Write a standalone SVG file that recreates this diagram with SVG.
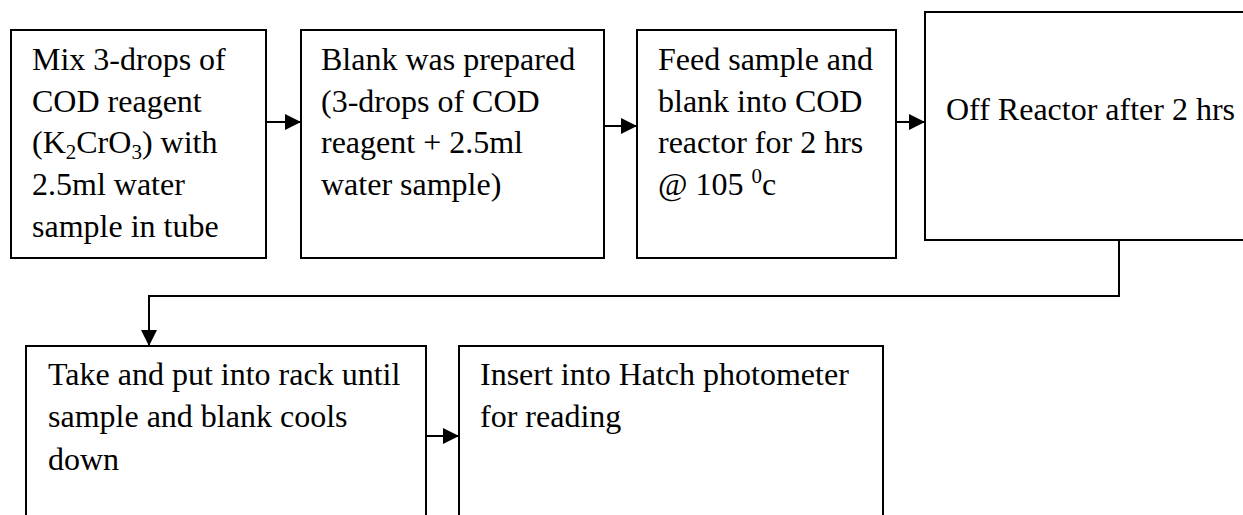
<svg xmlns="http://www.w3.org/2000/svg" width="1243" height="515" viewBox="0 0 1243 515">
  <style>
    .box { fill: #ffffff; stroke: #000000; stroke-width: 2; }
    .lbl { font-family: "Liberation Serif", "Times New Roman", serif; font-size: 32px; fill: #000000; }
    .sub { font-size: 21px; }
    .edge { fill: none; stroke: #000000; stroke-width: 2; }
  </style>
  <defs>
    <marker id="arrow" markerUnits="userSpaceOnUse" markerWidth="18" markerHeight="16" refX="16" refY="8" orient="auto">
      <path d="M0,0 L16,8 L0,16 Z" fill="#000000"/>
    </marker>
  </defs>
  <rect width="1243" height="515" fill="#ffffff"/>

  <g id="step-mix">
    <rect class="box" x="11" y="30" width="255" height="228"/>
    <text class="lbl" x="32" y="70">Mix 3-drops of</text>
    <text class="lbl" x="32" y="112">COD reagent</text>
    <text class="lbl" x="32" y="153">(K<tspan class="sub" dy="6">2</tspan><tspan dy="-6">CrO</tspan><tspan class="sub" dy="6">3</tspan><tspan dy="-6">) with</tspan></text>
    <text class="lbl" x="32" y="195">2.5ml water</text>
    <text class="lbl" x="32" y="237">sample in tube</text>
  </g>

  <g id="step-blank">
    <rect class="box" x="301" y="30" width="303" height="228"/>
    <text class="lbl" x="321" y="70">Blank was prepared</text>
    <text class="lbl" x="321" y="112">(3-drops of COD</text>
    <text class="lbl" x="321" y="153">reagent + 2.5ml</text>
    <text class="lbl" x="321" y="195">water sample)</text>
  </g>

  <g id="step-feed">
    <rect class="box" x="637" y="30" width="259" height="228"/>
    <text class="lbl" x="658" y="70">Feed sample and</text>
    <text class="lbl" x="658" y="112">blank into COD</text>
    <text class="lbl" x="658" y="153">reactor for 2 hrs</text>
    <text class="lbl" x="658" y="195">@ 105 <tspan class="sub" dy="-12">0</tspan><tspan dy="12">c</tspan></text>
  </g>

  <g id="step-off">
    <rect class="box" x="925" y="12" width="340" height="228"/>
    <text class="lbl" x="946" y="120">Off Reactor after 2 hrs</text>
  </g>

  <g id="step-cool">
    <rect class="box" x="26" y="346" width="400" height="200"/>
    <text class="lbl" x="48" y="385">Take and put into rack until</text>
    <text class="lbl" x="48" y="427">sample and blank cools</text>
    <text class="lbl" x="48" y="470">down</text>
  </g>

  <g id="step-read">
    <rect class="box" x="459" y="346" width="424" height="200"/>
    <text class="lbl" x="480" y="385">Insert into Hatch photometer</text>
    <text class="lbl" x="480" y="427">for reading</text>
  </g>

  <g id="connectors">
    <path class="edge" d="M266,122 H301" marker-end="url(#arrow)"/>
    <path class="edge" d="M604,126 H637" marker-end="url(#arrow)"/>
    <path class="edge" d="M896,122 H925" marker-end="url(#arrow)"/>
    <path class="edge" d="M1119,240 V296 H149 V346" marker-end="url(#arrow)"/>
    <path class="edge" d="M426,436 H459" marker-end="url(#arrow)"/>
  </g>
</svg>
